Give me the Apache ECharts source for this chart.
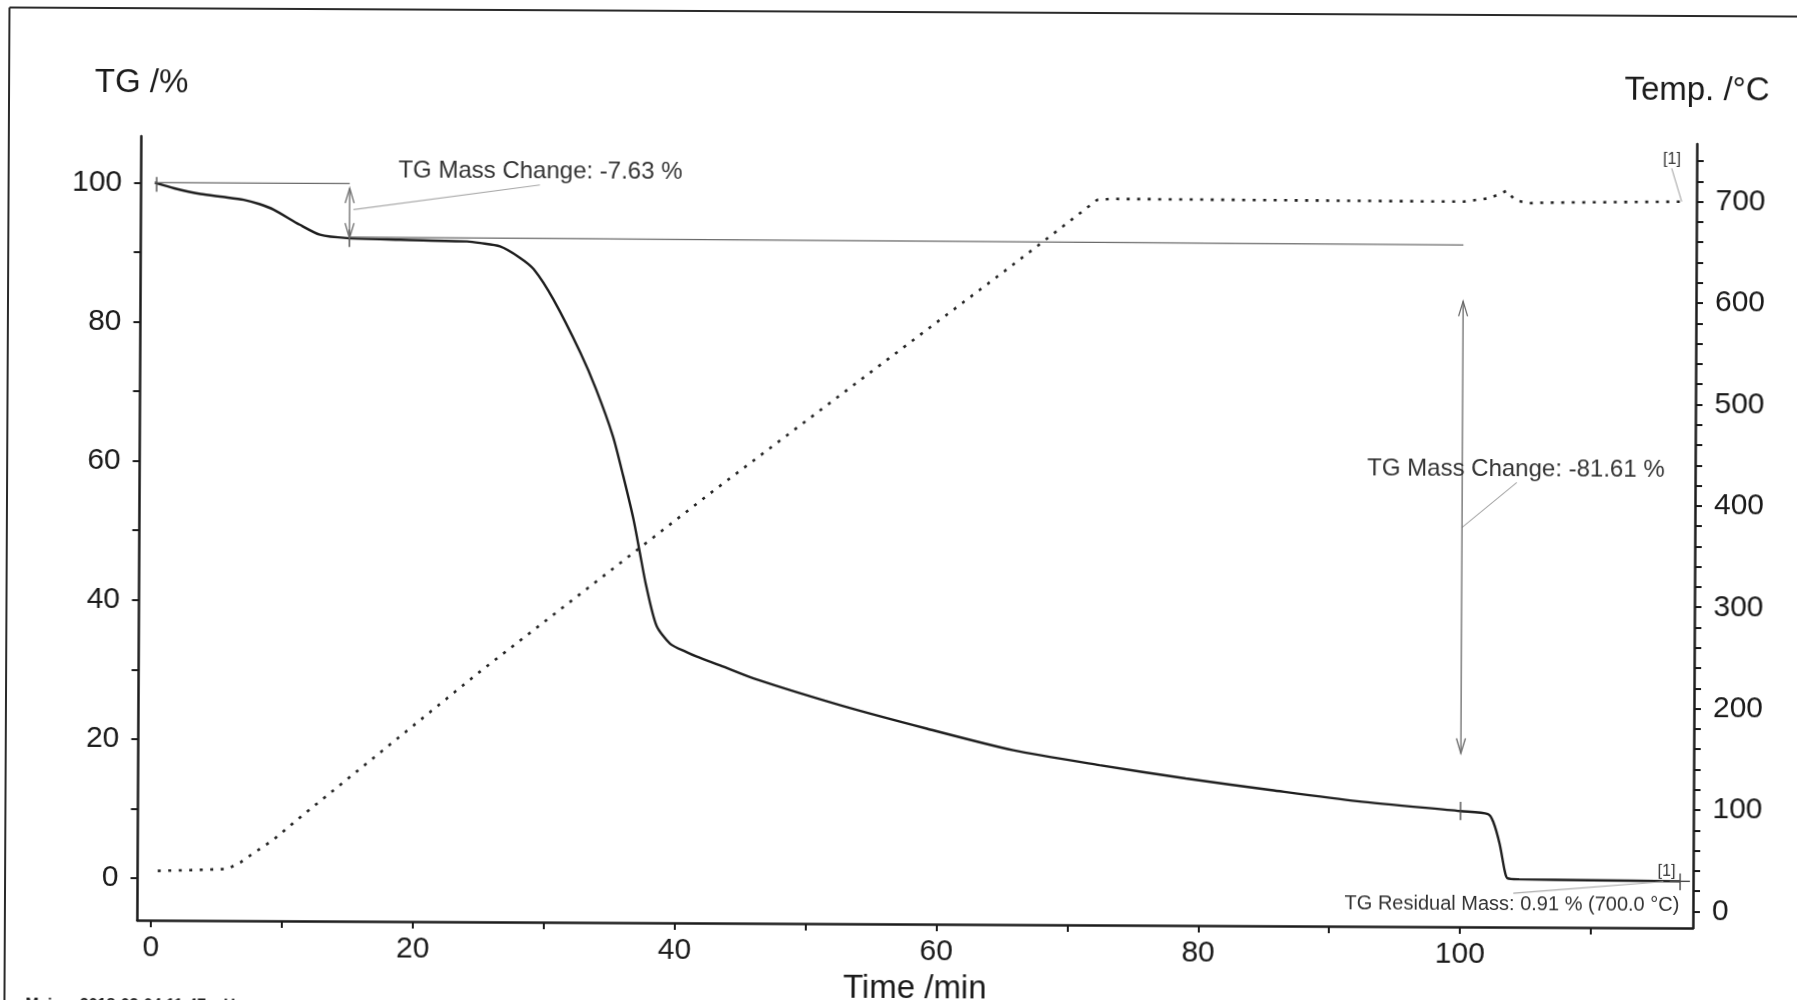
<!DOCTYPE html>
<html>
<head>
<meta charset="utf-8">
<script src="https://cdn.jsdelivr.net/npm/echarts@6/dist/echarts.min.js"></script>
<style>
  html, body { margin: 0; padding: 0; background: #ffffff; overflow: hidden; }
  #chart { position: absolute; left: 0; top: 0; width: 1797px; height: 1010px;
           transform-origin: 898px 500px; transform: rotate(0.29deg); background: #ffffff; }
</style>
</head>
<body>
<div id="chart"></div>
<script>
// ---------------- data ----------------
// TG curve: [time /min, TG /%]
const tgCurve = [
  [0, 100.0], [1.5, 99.2], [3.5, 98.4], [5.2, 98.0], [6.8, 97.6], [8.0, 97.0], [9.1, 96.2],
  [11.1, 94.05], [12.65, 92.63], [14.7, 92.17], [18.8, 91.97], [23.9, 91.77], [24.9, 91.55],
  [26.4, 91.08], [27.9, 89.5], [29.0, 87.8], [30.5, 83.5], [32.6, 75.8], [33.8, 70.6],
  [35.1, 63.9], [35.9, 58.2], [36.7, 52.0], [37.2, 47.2], [37.7, 42.4], [38.5, 36.7],
  [39.55, 34.1], [40.8, 32.9], [41.6, 32.25], [43.4, 31.0], [46.0, 29.13], [52.6, 25.36],
  [59.2, 22.07], [65.8, 19.03], [72.4, 16.95], [79.0, 15.09], [85.55, 13.48], [92.1, 11.96],
  [100.0, 10.6], [102.1, 10.2], [102.5, 9.1], [103.0, 5.9], [103.4, 2.0], [103.6, 1.0],
  [104.5, 0.85], [110.0, 0.75], [116.8, 0.67]
];
// Temperature curve: [time /min, Temp. /°C]
const tempCurve = [
  [0.5, 32.4], [3.0, 33.3], [5.8, 34.6], [6.8, 41.0], [7.8, 50.3], [9.3, 63.4], [11.1, 83.2],
  [25.0, 230.1], [42.8, 409.9], [64.6, 624.5], [67.9, 657.4], [72.0, 698.7], [73.1, 699.8],
  [100.0, 698.8], [102.0, 702.4], [103.3, 709.8], [103.9, 700.8], [104.9, 697.6],
  [106.1, 698.2], [116.7, 699.9]
];
// axis ticks / labels
const timeTicks  = [0, 10, 20, 30, 40, 50, 60, 70, 80, 90, 100, 110];
const timeLabels = [0, 20, 40, 60, 80, 100];
const tgTicks    = [0, 10, 20, 30, 40, 50, 60, 70, 80, 90, 100];
const tgLabels   = [0, 20, 40, 60, 80, 100];
const tempTicks  = [0, 20, 40, 60, 80, 100, 120, 140, 160, 180, 200, 220, 240, 260, 280, 300, 320, 340,
                    360, 380, 400, 420, 440, 460, 480, 500, 520, 540, 560, 580, 600, 620, 640, 660, 680,
                    700, 720, 740];
const tempLabels = [0, 100, 200, 300, 400, 500, 600, 700];
// annotation geometry in data units (time, TG %)
const tgRefLines = [[0, 100.0, 14.9, 100.0], [14.9, 92.3, 100.0, 92.0]];
const tgArrows   = [[14.9, 99.35, 14.9, 92.17], [100.0, 83.9, 100.0, 18.9]];
const tgCrosses  = [[0.15, 100.8, 0.15, 98.7], [14.9, 93.4, 14.9, 90.9], [100.0, 11.95, 100.0, 9.3],
                    [116.8, 1.8, 116.8, -0.6], [116.0, 0.67, 117.55, 0.67]];
const tgLeaders  = [[15.19, 96.26, 29.43, 99.96], [100.0, 51.38, 104.17, 57.88], [104.06, -1.16, 115.52, 0.62]];
const tgTexts    = [[29.46, 101.84, 'TG Mass Change: -7.63 %', 24],
                    [104.1, 59.8, 'TG Mass Change: -81.61 %', 24],
                    [103.96, -2.84, 'TG Residual Mass: 0.91 % (700.0 °C)', 20],
                    [115.76, 2.05, '[1]', 16]];
// annotation geometry in data units (time, Temp °C)
const tempLeaders = [[115.88, 732.8, 116.66, 699.9]];
const tempTexts   = [[115.9, 741, '[1]', 16]];

// ---------------- chart ----------------
const FONT = '"Liberation Sans", Arial, Helvetica, sans-serif';
const INK = '#1b1b1b';

function buildItems(lines, arrows, crosses, leaders, texts) {
  const items = [];
  lines.forEach(l => items.push({ kind: 'line', p: l, color: '#6a6a6a', w: 1.3 }));
  crosses.forEach(l => items.push({ kind: 'line', p: l, color: '#4a4a4a', w: 1.4 }));
  leaders.forEach(l => items.push({ kind: 'line', p: l, color: '#a8a8a8', w: 1.1 }));
  arrows.forEach(l => items.push({ kind: 'arrow', p: l, color: '#6a6a6a', w: 1.3 }));
  texts.forEach(t => items.push({ kind: 'text', p: t }));
  return items;
}

function annotSeries(items, yAxisIndex) {
  return {
    type: 'custom', coordinateSystem: 'cartesian2d', xAxisIndex: 0, yAxisIndex: yAxisIndex,
    clip: false, silent: true, z: 5,
    data: items.map(it => [it.p[0], it.p[1]]),
    renderItem: function (params, api) {
      const it = items[params.dataIndex];
      if (it.kind === 'text') {
        const c = api.coord([it.p[0], it.p[1]]);
        return { type: 'text', style: { text: it.p[2], x: c[0], y: c[1], fill: '#333333',
                 font: it.p[3] + 'px ' + FONT, align: 'center', verticalAlign: 'middle' } };
      }
      const a = api.coord([it.p[0], it.p[1]]);
      const b = api.coord([it.p[2], it.p[3]]);
      const st = { stroke: it.color, lineWidth: it.w, fill: null };
      if (it.kind === 'line') {
        return { type: 'line', shape: { x1: a[0], y1: a[1], x2: b[0], y2: b[1] }, style: st };
      }
      // double-headed open arrow
      const dx = b[0] - a[0], dy = b[1] - a[1];
      const len = Math.sqrt(dx * dx + dy * dy) || 1;
      const ux = dx / len, uy = dy / len, px = -uy, py = ux;
      const L = 15, H = 4.5;
      const head = (t, s) => [[t[0] + s * ux * L + px * H, t[1] + s * uy * L + py * H], [t[0], t[1]],
                              [t[0] + s * ux * L - px * H, t[1] + s * uy * L - py * H]];
      return { type: 'group', children: [
        { type: 'line', shape: { x1: a[0], y1: a[1], x2: b[0], y2: b[1] }, style: st },
        { type: 'polyline', shape: { points: head(a, 1) }, style: st },
        { type: 'polyline', shape: { points: head(b, -1) }, style: st }
      ] };
    }
  };
}

const chart = echarts.init(document.getElementById('chart'), null, { renderer: 'canvas', width: 1797, height: 1010 });

const axisLineStyle = { color: INK, width: 2.5 };
const option = {
  backgroundColor: '#ffffff',
  animation: false,
  grid: { left: 139.5, right: 102, top: 140, bottom: 84, containLabel: false },
  xAxis: {
    type: 'value', min: -1.04, max: 117.79,
    name: 'Time /min', nameLocation: 'middle', nameGap: 43,
    nameTextStyle: { fontSize: 33, color: INK, fontFamily: FONT },
    axisLine: { show: true, onZero: false, lineStyle: axisLineStyle },
    axisTick: { show: true, length: 7, customValues: timeTicks, lineStyle: { color: INK, width: 2 } },
    axisLabel: { customValues: timeLabels, fontSize: 30, color: INK, fontFamily: FONT, margin: 13 },
    splitLine: { show: false }
  },
  yAxis: [
    {
      type: 'value', position: 'left', min: -6.05, max: 106.67,
      name: 'TG /%', nameLocation: 'end', nameGap: 37,
      nameTextStyle: { fontSize: 33, color: INK, fontFamily: FONT, align: 'center' },
      axisLine: { show: true, onZero: false, lineStyle: axisLineStyle },
      axisTick: { show: true, length: 7, customValues: tgTicks, lineStyle: { color: INK, width: 2 } },
      axisLabel: { customValues: tgLabels, fontSize: 30, color: INK, fontFamily: FONT, margin: 19 },
      splitLine: { show: false }
    },
    {
      type: 'value', position: 'right', min: -16.4, max: 756.8,
      name: 'Temp. /°C', nameLocation: 'end', nameGap: 37,
      nameTextStyle: { fontSize: 33, color: INK, fontFamily: FONT, align: 'center' },
      axisLine: { show: true, onZero: false, lineStyle: axisLineStyle },
      axisTick: { show: true, length: 7, customValues: tempTicks, lineStyle: { color: INK, width: 2 } },
      axisLabel: { customValues: tempLabels, fontSize: 30, color: INK, fontFamily: FONT, margin: 19 },
      splitLine: { show: false }
    }
  ],
  series: [
    {
      name: 'TG', type: 'line', xAxisIndex: 0, yAxisIndex: 0, data: tgCurve,
      showSymbol: false, smooth: 0.25, z: 4,
      lineStyle: { color: '#1e1e1e', width: 2.4 }
    },
    {
      name: 'Temp.', type: 'line', xAxisIndex: 0, yAxisIndex: 1, data: tempCurve,
      showSymbol: false, smooth: false, z: 3,
      lineStyle: { color: '#222222', width: 2.6, type: [3, 7.5], cap: 'butt' }
    },
    annotSeries(buildItems(tgRefLines, tgArrows, tgCrosses, tgLeaders, tgTexts), 0),
    annotSeries(buildItems([], [], [], tempLeaders, tempTexts), 1)
  ],
  graphic: [
    { type: 'line', shape: { x1: 7, y1: 12, x2: 1797, y2: 12 }, style: { stroke: '#2a2a2a', lineWidth: 2 }, silent: true },
    { type: 'line', shape: { x1: 7, y1: 12, x2: 7, y2: 1010 }, style: { stroke: '#2a2a2a', lineWidth: 2 }, silent: true },
    { type: 'text', left: 28, top: 1002, silent: true,
      style: { text: 'Main    2018-03-04 11:47    User:', font: 'bold 16px ' + FONT, fill: '#222' } }
  ]
};
chart.setOption(option);
</script>
</body>
</html>
